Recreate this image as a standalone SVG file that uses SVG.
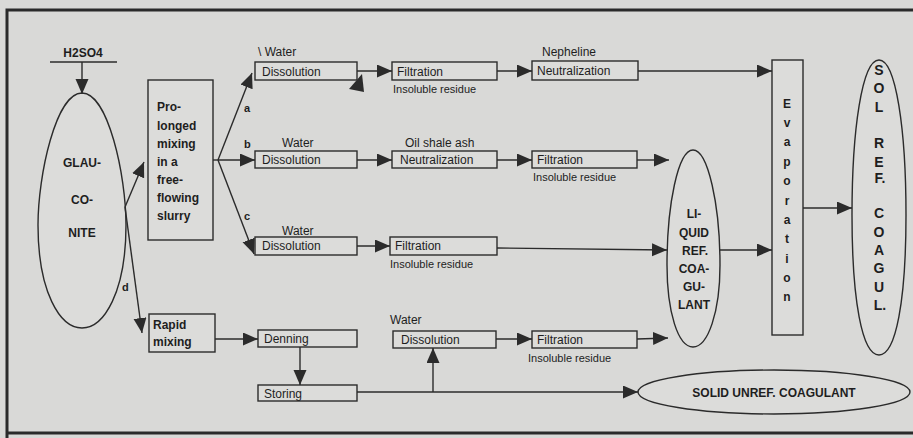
<svg xmlns="http://www.w3.org/2000/svg" width="913" height="438" viewBox="0 0 913 438">
<defs>
<marker id="ah" markerUnits="userSpaceOnUse" markerWidth="16" markerHeight="14" refX="15" refY="6.5" orient="auto">
<path d="M0,0 L15,6.5 L0,13 z" fill="#2b2b2b"/>
</marker>
</defs>
<style>
.bg{fill:#d9d9d7}
.frame{fill:none;stroke:#2a2a2a;stroke-width:3}
.box{fill:#dcdcda;stroke:#2b2b2b;stroke-width:1.4}
.ell{fill:#dcdcda;stroke:#2b2b2b;stroke-width:1.4}
.t{font-family:"Liberation Sans",Arial,sans-serif;font-size:12px;fill:#1e1e1e}
.b{font-weight:bold}
.c{text-anchor:middle}
.con line,.con polyline,.con path{stroke:#2b2b2b;stroke-width:1.4;fill:none}
</style>
<rect class="bg" x="0" y="0" width="913" height="438"/>
<g id="frame">
<path class="frame" d="M913,10 L7,10 L7,438 M7,433 L913,433"/>
</g>

<g id="h2so4">
<text class="t b c" x="83" y="57">H2SO4</text>
<line x1="50" y1="62" x2="117" y2="62" stroke="#2b2b2b" stroke-width="1.4"/>
</g>

<g id="glauconite">
<path class="ell" d="M82,93 C56,93 38,175 38,225 C38,292 60,328 82,328 C104,328 126,292 126,225 C126,175 108,93 82,93 z"/>
<text class="t b c" x="82" y="167">GLAU-</text>
<text class="t b c" x="82" y="204">CO-</text>
<text class="t b c" x="82" y="237">NITE</text>
</g>

<g id="prolonged">
<rect class="box" x="148" y="80" width="65" height="160"/>
<text class="t b" x="157" y="111">Pro-</text>
<text class="t b" x="157" y="130">longed</text>
<text class="t b" x="157" y="148">mixing</text>
<text class="t b" x="157" y="166">in a</text>
<text class="t b" x="157" y="184">free-</text>
<text class="t b" x="157" y="202">flowing</text>
<text class="t b" x="157" y="220">slurry</text>
</g>

<g id="rapid">
<rect class="box" x="149" y="314" width="66" height="38"/>
<text class="t b" x="153" y="329">Rapid</text>
<text class="t b" x="153" y="346">mixing</text>
</g>

<g id="diss1">
<text class="t" x="258" y="56">\ Water</text>
<rect class="box" x="255" y="62" width="102" height="18"/>
<text class="t" x="262" y="76">Dissolution</text>
</g>
<g id="filt1">
<rect class="box" x="392" y="62" width="105" height="18"/>
<text class="t" x="397" y="76">Filtration</text>
<text class="t" x="393" y="93" style="font-size:11px">Insoluble residue</text>
</g>
<g id="neut1">
<text class="t" x="542" y="56">Nepheline</text>
<rect class="box" x="532" y="61" width="106" height="19"/>
<text class="t" x="537" y="75">Neutralization</text>
</g>

<g id="diss2">
<text class="t" x="282" y="147">Water</text>
<rect class="box" x="255" y="151" width="102" height="17"/>
<text class="t" x="262" y="164">Dissolution</text>
</g>
<g id="neut2">
<text class="t" x="405" y="147">Oil shale ash</text>
<rect class="box" x="392" y="151" width="105" height="17"/>
<text class="t" x="400" y="164">Neutralization</text>
</g>
<g id="filt2">
<rect class="box" x="532" y="151" width="105" height="17"/>
<text class="t" x="537" y="164">Filtration</text>
<text class="t" x="533" y="181" style="font-size:11px">Insoluble residue</text>
</g>

<g id="diss3">
<text class="t" x="282" y="235">Water</text>
<rect class="box" x="255" y="237" width="102" height="18"/>
<text class="t" x="262" y="250">Dissolution</text>
</g>
<g id="filt3">
<rect class="box" x="390" y="237" width="107" height="18"/>
<text class="t" x="395" y="250">Filtration</text>
<text class="t" x="390" y="268" style="font-size:11px">Insoluble residue</text>
</g>

<g id="denning">
<rect class="box" x="258" y="330" width="99" height="17"/>
<text class="t" x="264" y="343">Denning</text>
</g>
<g id="storing">
<rect class="box" x="258" y="385" width="99" height="16"/>
<text class="t" x="264" y="398">Storing</text>
</g>
<g id="diss4">
<text class="t" x="390" y="324">Water</text>
<rect class="box" x="393" y="331" width="103" height="17"/>
<text class="t" x="401" y="344">Dissolution</text>
</g>
<g id="filt4">
<rect class="box" x="532" y="331" width="105" height="17"/>
<text class="t" x="537" y="344">Filtration</text>
<text class="t" x="528" y="362" style="font-size:11px">Insoluble residue</text>
</g>

<g id="liquid">
<path class="ell" d="M693,150 C678,150 667,205 667,265 C667,312 678,347 693,347 C708,347 720,312 720,265 C720,205 708,150 693,150 z"/>
<text class="t b c" x="694" y="218">LI-</text>
<text class="t b c" x="694" y="237">QUID</text>
<text class="t b c" x="695" y="255">REF.</text>
<text class="t b c" x="694" y="273">COA-</text>
<text class="t b c" x="694" y="291">GU-</text>
<text class="t b c" x="694" y="309">LANT</text>
</g>

<g id="evaporation">
<rect class="box" x="772" y="60" width="31" height="275"/>
<g class="t b c">
<text x="787" y="108">E</text>
<text x="787" y="127">v</text>
<text x="787" y="146">a</text>
<text x="787" y="166">p</text>
<text x="787" y="185">o</text>
<text x="787" y="205">r</text>
<text x="787" y="224">a</text>
<text x="787" y="243">t</text>
<text x="787" y="263">i</text>
<text x="787" y="282">o</text>
<text x="787" y="301">n</text>
</g>
</g>

<g id="solref">
<path class="ell" d="M879,60 C862,60 852,130 852,215 C852,300 862,355 879,355 C896,355 906,300 906,215 C906,130 896,60 879,60 z"/>
<g class="t b c" style="font-size:14px">
<text x="879" y="75">S</text>
<text x="879" y="93">O</text>
<text x="879" y="112">L</text>
<text x="879" y="148">R</text>
<text x="879" y="167">E</text>
<text x="880" y="183">F.</text>
<text x="879" y="218">C</text>
<text x="879" y="237">O</text>
<text x="879" y="255">A</text>
<text x="879" y="273">G</text>
<text x="879" y="292">U</text>
<text x="880" y="310">L.</text>
</g>
</g>

<g id="solidunref">
<ellipse class="ell" cx="774" cy="392" rx="136" ry="22"/>
<text class="t b c" x="774" y="397">SOLID UNREF. COAGULANT</text>
</g>

<g id="connectors" class="con">
<line x1="82" y1="62" x2="82" y2="94" marker-end="url(#ah)"/>
<line x1="125" y1="207" x2="144" y2="162" marker-end="url(#ah)"/>
<line x1="125" y1="207" x2="142" y2="333" marker-end="url(#ah)"/>
<line x1="213" y1="160" x2="218" y2="160"/>
<line x1="218" y1="160" x2="252" y2="73" marker-end="url(#ah)"/>
<line x1="218" y1="160" x2="255" y2="160" marker-end="url(#ah)"/>
<line x1="218" y1="160" x2="254" y2="254" marker-end="url(#ah)"/>
<line x1="357" y1="71" x2="392" y2="71" marker-end="url(#ah)"/>
<line x1="497" y1="71" x2="532" y2="71" marker-end="url(#ah)"/>
<line x1="638" y1="71" x2="772" y2="71" marker-end="url(#ah)"/>
<line x1="357" y1="160" x2="392" y2="160" marker-end="url(#ah)"/>
<line x1="497" y1="160" x2="532" y2="160" marker-end="url(#ah)"/>
<line x1="637" y1="160" x2="669" y2="160" marker-end="url(#ah)"/>
<line x1="357" y1="246" x2="390" y2="246" marker-end="url(#ah)"/>
<line x1="497" y1="248" x2="667" y2="250" marker-end="url(#ah)"/>
<line x1="720" y1="250" x2="772" y2="250" marker-end="url(#ah)"/>
<line x1="215" y1="339" x2="258" y2="339" marker-end="url(#ah)"/>
<line x1="300" y1="347" x2="300" y2="385" marker-end="url(#ah)"/>
<line x1="496" y1="339" x2="532" y2="339" marker-end="url(#ah)"/>
<line x1="637" y1="339" x2="668" y2="338" marker-end="url(#ah)"/>
<line x1="357" y1="392" x2="638" y2="392" marker-end="url(#ah)"/>
<line x1="433" y1="392" x2="433" y2="348" marker-end="url(#ah)"/>
<line x1="803" y1="208" x2="852" y2="208" marker-end="url(#ah)"/>
<polygon points="349,89 362,74 364,92" fill="#2b2b2b" stroke="none"/>
</g>

<g id="labels" class="t b" style="font-size:11px">
<text x="244" y="112">a</text>
<text x="244" y="148">b</text>
<text x="244" y="220">c</text>
<text x="122" y="291">d</text>
</g>
</svg>
